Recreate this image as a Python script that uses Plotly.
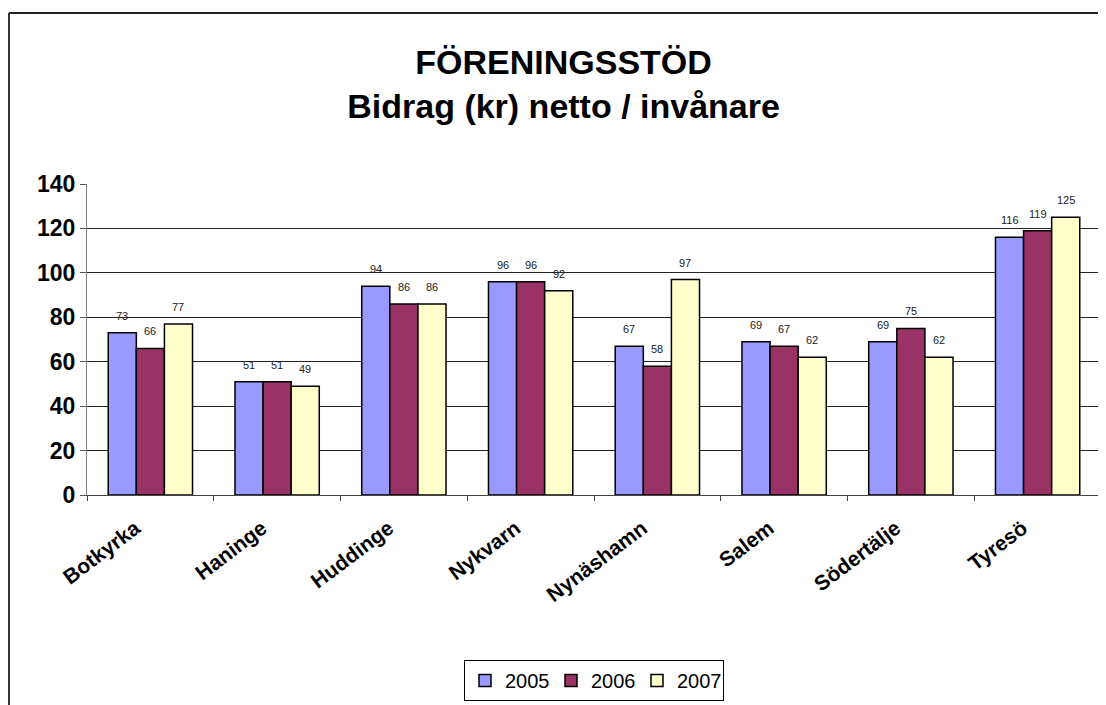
import plotly.graph_objects as go

categories = ["Botkyrka", "Haninge", "Huddinge", "Nykvarn", "Nynäshamn", "Salem", "Södertälje", "Tyresö"]
years = ["2005", "2006", "2007"]
values_2005 = [73, 51, 94, 96, 67, 69, 69, 116]
values_2006 = [66, 51, 86, 96, 58, 67, 75, 119]
values_2007 = [77, 49, 86, 92, 97, 62, 62, 125]
series = [values_2005, values_2006, values_2007]
colors = ["#9999FF", "#993366", "#FFFFCC"]
y_ticks = [0, 20, 40, 60, 80, 100, 120, 140]

# the page body adds an 8px offset, so the figure is 8px smaller than the window
W, H = 1098, 697
ml, mr, mt, mb = 79, 5, 176, 210
bargap = 0.335
plot_w = W - ml - mr
plot_h = H - mt - mb
cat_w = plot_w / len(categories)
bar_w = cat_w * (1 - bargap) / len(series)

FONT = "Liberation Sans, Arial, sans-serif"

fig = go.Figure()
for name, vals, col in zip(years, series, colors):
    fig.add_trace(go.Bar(
        name=name, x=categories, y=vals,
        marker=dict(color=col, line=dict(color="#000000", width=1.5)),
        hoverinfo="x+y+name",
    ))

annotations = []
for i, vals in enumerate(series):
    shift = (i - (len(series) - 1) / 2) * bar_w
    for c, v in zip(categories, vals):
        annotations.append(dict(
            x=c, y=v, xref="x", yref="y", text=str(v), showarrow=False,
            xshift=shift, yshift=9, yanchor="bottom",
            font=dict(family=FONT, size=11, color="#222222"),
        ))

def px_to_paper_x(px):
    return (px - ml) / plot_w

def px_to_paper_y(py):
    return (H - mb - py) / plot_h

fig.update_layout(
    width=W, height=H,
    margin=dict(l=ml, r=mr, t=mt, b=mb, autoexpand=False),
    paper_bgcolor="white", plot_bgcolor="white",
    barmode="group", bargap=bargap, bargroupgap=0,
    font=dict(family=FONT, color="#000000"),
    title=dict(
        text="<b>FÖRENINGSSTÖD<br>Bidrag (kr) netto / invånare</b>",
        x=0.506, xref="container", xanchor="center",
        y=1 - 66 / H, yref="container", yanchor="top",
        font=dict(family=FONT, size=34, color="#000000"),
    ),
    xaxis=dict(
        type="category",
        showline=True, linecolor="#444444", linewidth=1,
        ticks="outside", tickson="boundaries", ticklen=5, tickcolor="#444444",
        tickangle=-37, ticklabelstandoff=12, ticklabelshift=-15,
        tickfont=dict(family=FONT, size=21, color="#000000", weight="bold"),
        showgrid=False, zeroline=False,
    ),
    yaxis=dict(
        range=[0, 140], tickvals=y_ticks, ticktext=[str(t) for t in y_ticks],
        showline=True, linecolor="#808080", linewidth=1,
        ticks="outside", ticklen=6, tickcolor="#555555",
        tickfont=dict(family=FONT, size=23, color="#000000", weight="bold"),
        showgrid=True, gridcolor="#222222", gridwidth=1,
        zeroline=False,
    ),
    legend=dict(
        orientation="h", x=0.5, xanchor="center", y=-0.5305, yanchor="top",
        bordercolor="#000000", borderwidth=1, bgcolor="white",
        font=dict(family=FONT, size=20, color="#000000"),
        itemwidth=30, tracegroupgap=0,
        entrywidth=41, entrywidthmode="pixels",
    ),
    annotations=annotations,
    shapes=[
        dict(type="line", xref="paper", yref="paper",
             x0=px_to_paper_x(1), x1=px_to_paper_x(1094),
             y0=px_to_paper_y(5), y1=px_to_paper_y(5),
             line=dict(color="#222222", width=2)),
        dict(type="line", xref="paper", yref="paper",
             x0=px_to_paper_x(1), x1=px_to_paper_x(1),
             y0=px_to_paper_y(5), y1=px_to_paper_y(H + 5),
             line=dict(color="#333333", width=2)),
    ],
)

fig.write_html("out.html")
